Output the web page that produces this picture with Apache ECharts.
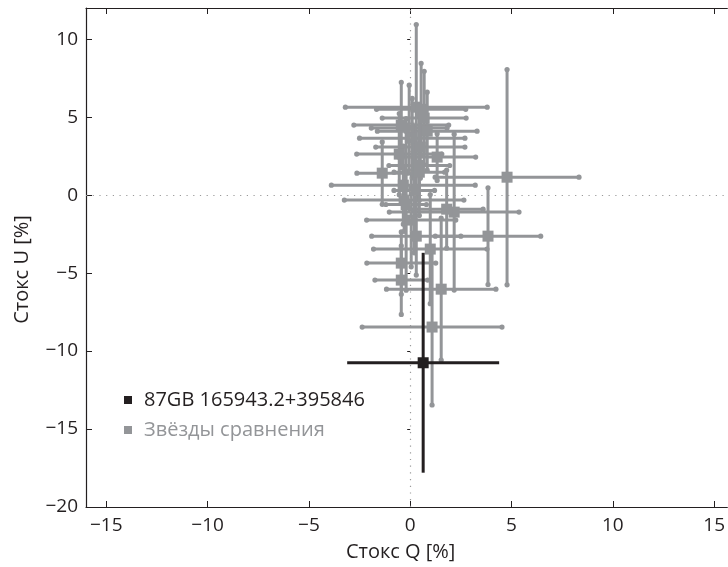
<!DOCTYPE html>
<html>
<head>
<meta charset="utf-8">
<script src="https://cdn.jsdelivr.net/npm/echarts@6/dist/echarts.min.js"></script>
<style>html,body{margin:0;padding:0;background:#fff;}#c{width:728px;height:567px;}</style>
</head>
<body>
<div id="c"></div>
<script>
// Target star
const targetName = '87GB 165943.2+395846';
const targetQ = [0.64];
const targetU = [-10.75];
const targetQErr = [3.75];
const targetUErr = [7.05];

// Comparison stars
const compName = 'Звёзды сравнения';
const compQ =    [4.78, 3.84, 2.17, 1.80, 1.08, 1.53, 0.99, -0.44, -0.44, 0.30, -1.38, 0.45, 0.30, 0.54, 0.69, -0.44, -0.05, 0.84, 0.10, 0.50, -0.54, 1.33, -0.34, -0.30, 0.05, 0.45, 0.20, -0.20];
const compU =    [1.15, -2.63, -1.09, -0.90, -8.46, -6.03, -3.46, -4.36, -5.45, -2.63, 1.41, 1.47, 5.64, 5.50, 4.94, 4.49, 4.30, 4.10, 3.65, 3.08, 2.63, 2.44, 0.64, -0.32, -1.60, 1.90, 0.30, -0.60];
const compQErr = [3.55, 2.60, 3.20, 1.80, 3.45, 2.70, 2.80, 1.70, 1.30, 2.20, 1.25, 1.25, 3.50, 2.20, 2.07, 2.34, 1.87, 2.46, 2.60, 2.20, 2.10, 1.90, 3.55, 2.95, 2.20, 1.50, 1.00, 1.00];
const compUErr = [6.90, 3.10, 5.00, 2.50, 5.00, 4.55, 3.50, 2.00, 2.20, 2.50, 2.00, 1.80, 5.30, 2.95, 3.00, 2.75, 2.75, 2.50, 2.55, 2.00, 2.60, 1.50, 2.50, 2.00, 3.00, 3.20, 4.00, 5.50];

const xTicks = [-15, -10, -5, 0, 5, 10, 15];
const yTicks = [-20, -15, -10, -5, 0, 5, 10];

const BLACK = '#231f20';
const GRAY = '#939598';
const FONT = 'Open Sans';

function rows(q, u, qe, ue) { return q.map((v, i) => [v, u[i], qe[i], ue[i]]); }
const targetData = rows(targetQ, targetU, targetQErr, targetUErr);
const compData = rows(compQ, compU, compQErr, compUErr);

function errRender(color, width, caps) {
  return function (params, api) {
    const q = api.value(0), u = api.value(1), qe = api.value(2), ue = api.value(3);
    const l = api.coord([q - qe, u]), r = api.coord([q + qe, u]);
    const t = api.coord([q, u + ue]), b = api.coord([q, u - ue]);
    const st = { stroke: color, lineWidth: width, lineCap: 'butt' };
    const children = [
      { type: 'line', shape: { x1: l[0], y1: l[1], x2: r[0], y2: r[1] }, style: st },
      { type: 'line', shape: { x1: t[0], y1: t[1], x2: b[0], y2: b[1] }, style: st }
    ];
    if (caps) {
      [l, r, t, b].forEach(p => children.push({ type: 'circle', shape: { cx: p[0], cy: p[1], r: 2.6 }, style: { fill: color } }));
    }
    return { type: 'group', children: children };
  };
}

const neg = v => (v < 0 ? '\u2212' + Math.abs(v) : '' + v);

const chart = echarts.init(document.getElementById('c'), null, { renderer: 'canvas' });
chart.setOption({
  animation: false,
  backgroundColor: '#fff',
  textStyle: { fontFamily: FONT },
  grid: { left: 86, right: 0, top: 8, bottom: 60, containLabel: false },
  legend: {
    orient: 'vertical', left: 119, top: 385,
    itemWidth: 8, itemHeight: 8, itemGap: 10,
    textStyle: { fontSize: 20, fontFamily: FONT, padding: [0, 0, 0, 7] },
    data: [
      { name: targetName, icon: 'rect', textStyle: { color: BLACK } },
      { name: compName, icon: 'rect', textStyle: { color: GRAY } }
    ]
  },
  xAxis: [{
    type: 'value', min: -16, max: 15.65, position: 'bottom',
    name: 'Стокс Q [%]', nameLocation: 'middle', nameGap: 35,
    nameTextStyle: { fontSize: 20, color: BLACK, fontFamily: FONT, padding: [0, 12, 0, 0] },
    axisLine: { show: true, onZero: false, lineStyle: { color: BLACK, width: 1.2 } },
    axisTick: { show: true, inside: true, length: 6, customValues: xTicks, lineStyle: { color: BLACK } },
    axisLabel: { customValues: xTicks, fontSize: 19, color: BLACK, margin: 9, formatter: neg, fontFamily: FONT },
    splitLine: { show: false }
  }, {
    type: 'value', min: -16, max: 15.65, position: 'top',
    axisLine: { show: true, onZero: false, lineStyle: { color: BLACK, width: 1.2 } },
    axisTick: { show: true, inside: true, length: 6, customValues: xTicks, lineStyle: { color: BLACK } },
    axisLabel: { show: false }, splitLine: { show: false }
  }],
  yAxis: [{
    type: 'value', min: -20, max: 12, position: 'left',
    name: 'Стокс U [%]', nameLocation: 'middle', nameGap: 54, nameRotate: 90,
    nameTextStyle: { fontSize: 20, color: BLACK, fontFamily: FONT, padding: [0, 24, 0, 0] },
    axisLine: { show: true, onZero: false, lineStyle: { color: BLACK, width: 1.2 } },
    axisTick: { show: true, inside: true, length: 6, customValues: yTicks, lineStyle: { color: BLACK } },
    axisLabel: { customValues: yTicks, fontSize: 19, color: BLACK, margin: 8, formatter: neg, fontFamily: FONT },
    splitLine: { show: false }
  }, {
    type: 'value', min: -20, max: 12, position: 'right',
    axisLine: { show: false },
    axisTick: { show: true, inside: true, length: 3, customValues: yTicks, lineStyle: { color: BLACK } },
    axisLabel: { show: false }, splitLine: { show: false }
  }],
  series: [
    {
      type: 'custom', name: compName, data: compData, silent: true,
      itemStyle: { color: GRAY },
      renderItem: errRender(GRAY, 3, true),
      markLine: {
        silent: true, symbol: 'none', label: { show: false },
        lineStyle: { color: '#9a9a9a', width: 1.2, type: [1.2, 5.5] },
        data: [{ xAxis: 0 }, { yAxis: 0 }]
      },
      z: 2
    },
    {
      type: 'scatter', name: compName, data: compData.map(d => [d[0], d[1]]),
      symbol: 'rect', symbolSize: 11, itemStyle: { color: GRAY, opacity: 1 }, z: 3
    },
    {
      type: 'custom', name: targetName, data: targetData, silent: true,
      itemStyle: { color: BLACK },
      renderItem: errRender(BLACK, 3, false), z: 4
    },
    {
      type: 'scatter', name: targetName, data: targetData.map(d => [d[0], d[1]]),
      symbol: 'rect', symbolSize: 11, itemStyle: { color: BLACK, opacity: 1 }, z: 5
    }
  ]
});
</script>
</body>
</html>
